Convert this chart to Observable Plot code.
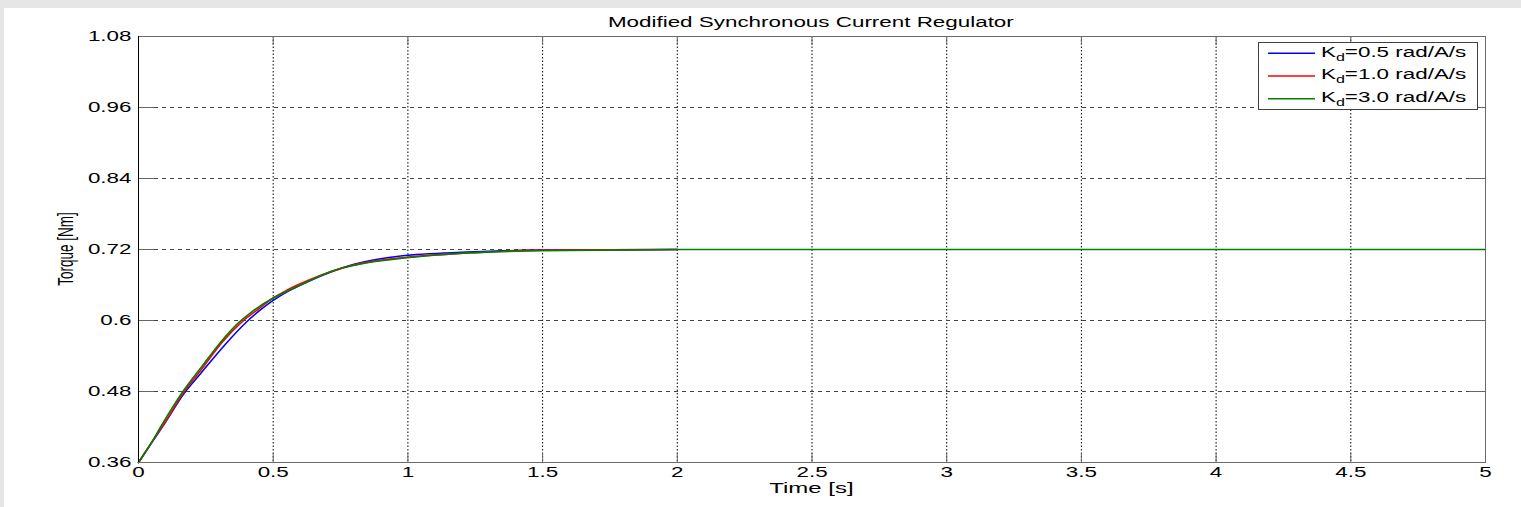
<!DOCTYPE html>
<html>
<head>
<meta charset="utf-8">
<script src="https://cdn.jsdelivr.net/npm/d3@7"></script>
<script src="https://cdn.jsdelivr.net/npm/@observablehq/plot@0.6"></script>
<style>
  html, body { margin: 0; padding: 0; }
  body { background: #e6e6e6; width: 1521px; height: 507px; overflow: hidden; font-family: "Liberation Sans", Arial, sans-serif; }
  #wrap { position: absolute; left: 4px; top: 8px; width: 1517px; height: 499px; background: #fff; }
  .stretch { display: inline-block; transform: scaleX(1.6); white-space: nowrap; }
  #title { position: absolute; top: 6.8px; text-align: center; font-size: 14px; line-height: 14px; color: #000; }
  #xlabel { position: absolute; top: 472.3px; text-align: center; font-size: 15px; line-height: 15px; color: #000; }
  #ylabel { position: absolute; left: 63px; top: 241px; font-size: 13.5px; line-height: 14px; white-space: nowrap;
            transform: translate(-50%, -50%) rotate(-90deg) scaleY(1.6); color: #000; }
  #legend { position: absolute; left: 1254px; top: 34px; width: 220px; height: 68px; box-sizing: border-box;
            border: 1px solid #404040; background: #fff; }
  #legend svg { position: absolute; left: 0; top: 0; }
  .lg-text { position: absolute; left: 61.7px; font-size: 14px; line-height: 14px; color: #000; }
  .lg-text .stretch { transform-origin: left center; }
  .lg-text sub { font-size: 10px; vertical-align: -4px; line-height: 0; }
</style>
</head>
<body>
<div id="wrap"></div>
<script>
// ---- data ----
const xTicks = [0, 0.5, 1, 1.5, 2, 2.5, 3, 3.5, 4, 4.5, 5];
const xTickLabels = ["0", "0.5", "1", "1.5", "2", "2.5", "3", "3.5", "4", "4.5", "5"];
const yTicks = [0.36, 0.48, 0.6, 0.72, 0.84, 0.96, 1.08];
const yTickLabels = ["0.36", "0.48", "0.6", "0.72", "0.84", "0.96", "1.08"];

const titleText = "Modified Synchronous Current Regulator";
const xLabelText = "Time [s]";
const yLabelText = "Torque [Nm]";
const kdValues = ["0.5", "1.0", "3.0"];
const seriesColors = ["#0000ff", "#ff0000", "#008000"];

const tBlue = [0, 0.05, 0.1, 0.168, 0.23, 0.317, 0.4, 0.45, 0.5, 0.55, 0.626, 0.8, 0.973, 1.22, 1.5, 2.0];
const blue  = [0.36, 0.394, 0.428, 0.476, 0.51, 0.557, 0.597, 0.617, 0.634, 0.648, 0.665, 0.695, 0.709, 0.7155, 0.719, 0.72];

const tRed = [0, 0.05, 0.1, 0.168, 0.23, 0.31, 0.385, 0.45, 0.5, 0.55, 0.626, 0.8, 0.997, 1.22, 1.5, 2.0];
const red  = [0.36, 0.395, 0.429, 0.479, 0.515, 0.563, 0.598, 0.621, 0.638, 0.651, 0.667, 0.694, 0.707, 0.714, 0.719, 0.72];

const tGreen = [0, 0.05, 0.082, 0.168, 0.243, 0.304, 0.366, 0.416, 0.5, 0.55, 0.601, 0.725, 0.849, 0.997, 1.22, 1.49, 2.0, 5.0];
const green  = [0.36, 0.395, 0.42, 0.482, 0.527, 0.563, 0.594, 0.613, 0.638, 0.649, 0.66, 0.6845, 0.6975, 0.706, 0.714, 0.718, 0.72, 0.72];

// ---- build table ----
const rows = [
  ...tBlue.map((t, i) => ({t, v: blue[i], s: kdValues[0]})),
  ...tRed.map((t, i) => ({t, v: red[i], s: kdValues[1]})),
  ...tGreen.map((t, i) => ({t, v: green[i], s: kdValues[2]}))
];

const W = 1517, H = 499, mL = 134, mR = 36, mT = 28, mB = 45;
const innerW = W - mL - mR, innerH = H - mT - mB;

const chart = Plot.plot({
  width: W, height: H,
  marginLeft: mL, marginRight: mR, marginTop: mT, marginBottom: mB,
  style: {fontFamily: '"Liberation Sans", Arial, sans-serif', fontSize: "14px", color: "#000", background: "transparent", overflow: "visible"},
  x: {domain: [0, 5]},
  y: {domain: [0.36, 1.08]},
  color: {domain: kdValues, range: seriesColors},
  marks: [
    Plot.ruleX(xTicks.slice(1, -1), {stroke: "#000", strokeDasharray: "1.5,2", strokeWidth: 1}),
    Plot.ruleY(yTicks.slice(1, -1), {stroke: "#444", strokeDasharray: "4,4", strokeWidth: 1}),
    Plot.tickX(xTicks, {x: d => d, insetTop: innerH - 9, stroke: "#666"}),
    Plot.tickX(xTicks, {x: d => d, insetBottom: innerH - 9, stroke: "#666"}),
    Plot.tickY(yTicks, {y: d => d, insetRight: innerW - 16, stroke: "#666"}),
    Plot.tickY(yTicks, {y: d => d, insetLeft: innerW - 16, stroke: "#666"}),
    Plot.line(rows, {x: "t", y: "v", stroke: "s", curve: "monotone-x", strokeWidth: 1.6}),
    Plot.frame({stroke: "#6a6a6a"}),
    Plot.ruleX([0], {stroke: "#000"}),
    Plot.axisX(xTicks, {tickSize: 0, tickPadding: 4.5, label: null, tickFormat: d => xTickLabels[xTicks.indexOf(d)]}),
    Plot.axisY(yTicks, {tickSize: 0, tickPadding: 7, label: null, tickFormat: d => yTickLabels[yTicks.indexOf(d)]})
  ]
});
chart.style.position = "absolute";
chart.style.left = "0px";
chart.style.top = "0px";

const wrap = document.getElementById("wrap");
wrap.append(chart);

// horizontally stretched lettering, as in the reference
chart.querySelectorAll("text").forEach(t => {
  const w = t.getComputedTextLength();
  t.setAttribute("textLength", (w * 1.6).toFixed(2));
  t.setAttribute("lengthAdjust", "spacingAndGlyphs");
});

// title, axis labels
const title = document.createElement("div");
title.id = "title";
title.style.width = W + "px";
title.style.left = (807 - W / 2) + "px";
title.innerHTML = `<span class="stretch">${titleText}</span>`;
wrap.append(title);

const xl = document.createElement("div");
xl.id = "xlabel";
xl.style.width = W + "px";
xl.style.left = (807 - W / 2) + "px";
xl.innerHTML = `<span class="stretch">${xLabelText}</span>`;
wrap.append(xl);

const yl = document.createElement("div");
yl.id = "ylabel";
yl.textContent = yLabelText;
wrap.append(yl);

// legend
const lg = document.createElement("div");
lg.id = "legend";
const lgSvg = d3.create("svg").attr("width", 218).attr("height", 66);
kdValues.forEach((k, i) => {
  lgSvg.append("line")
    .attr("x1", 9).attr("x2", 56)
    .attr("y1", 10.3 + 22.7 * i).attr("y2", 10.3 + 22.7 * i)
    .attr("stroke", seriesColors[i]).attr("stroke-width", 1.5);
});
lg.append(lgSvg.node());
kdValues.forEach((k, i) => {
  const tx = document.createElement("div");
  tx.className = "lg-text";
  tx.style.top = (1.8 + 22.6 * i) + "px";
  tx.innerHTML = `<span class="stretch">K<sub>d</sub>=${k} rad/A/s</span>`;
  lg.append(tx);
});
wrap.append(lg);
</script>
</body>
</html>
